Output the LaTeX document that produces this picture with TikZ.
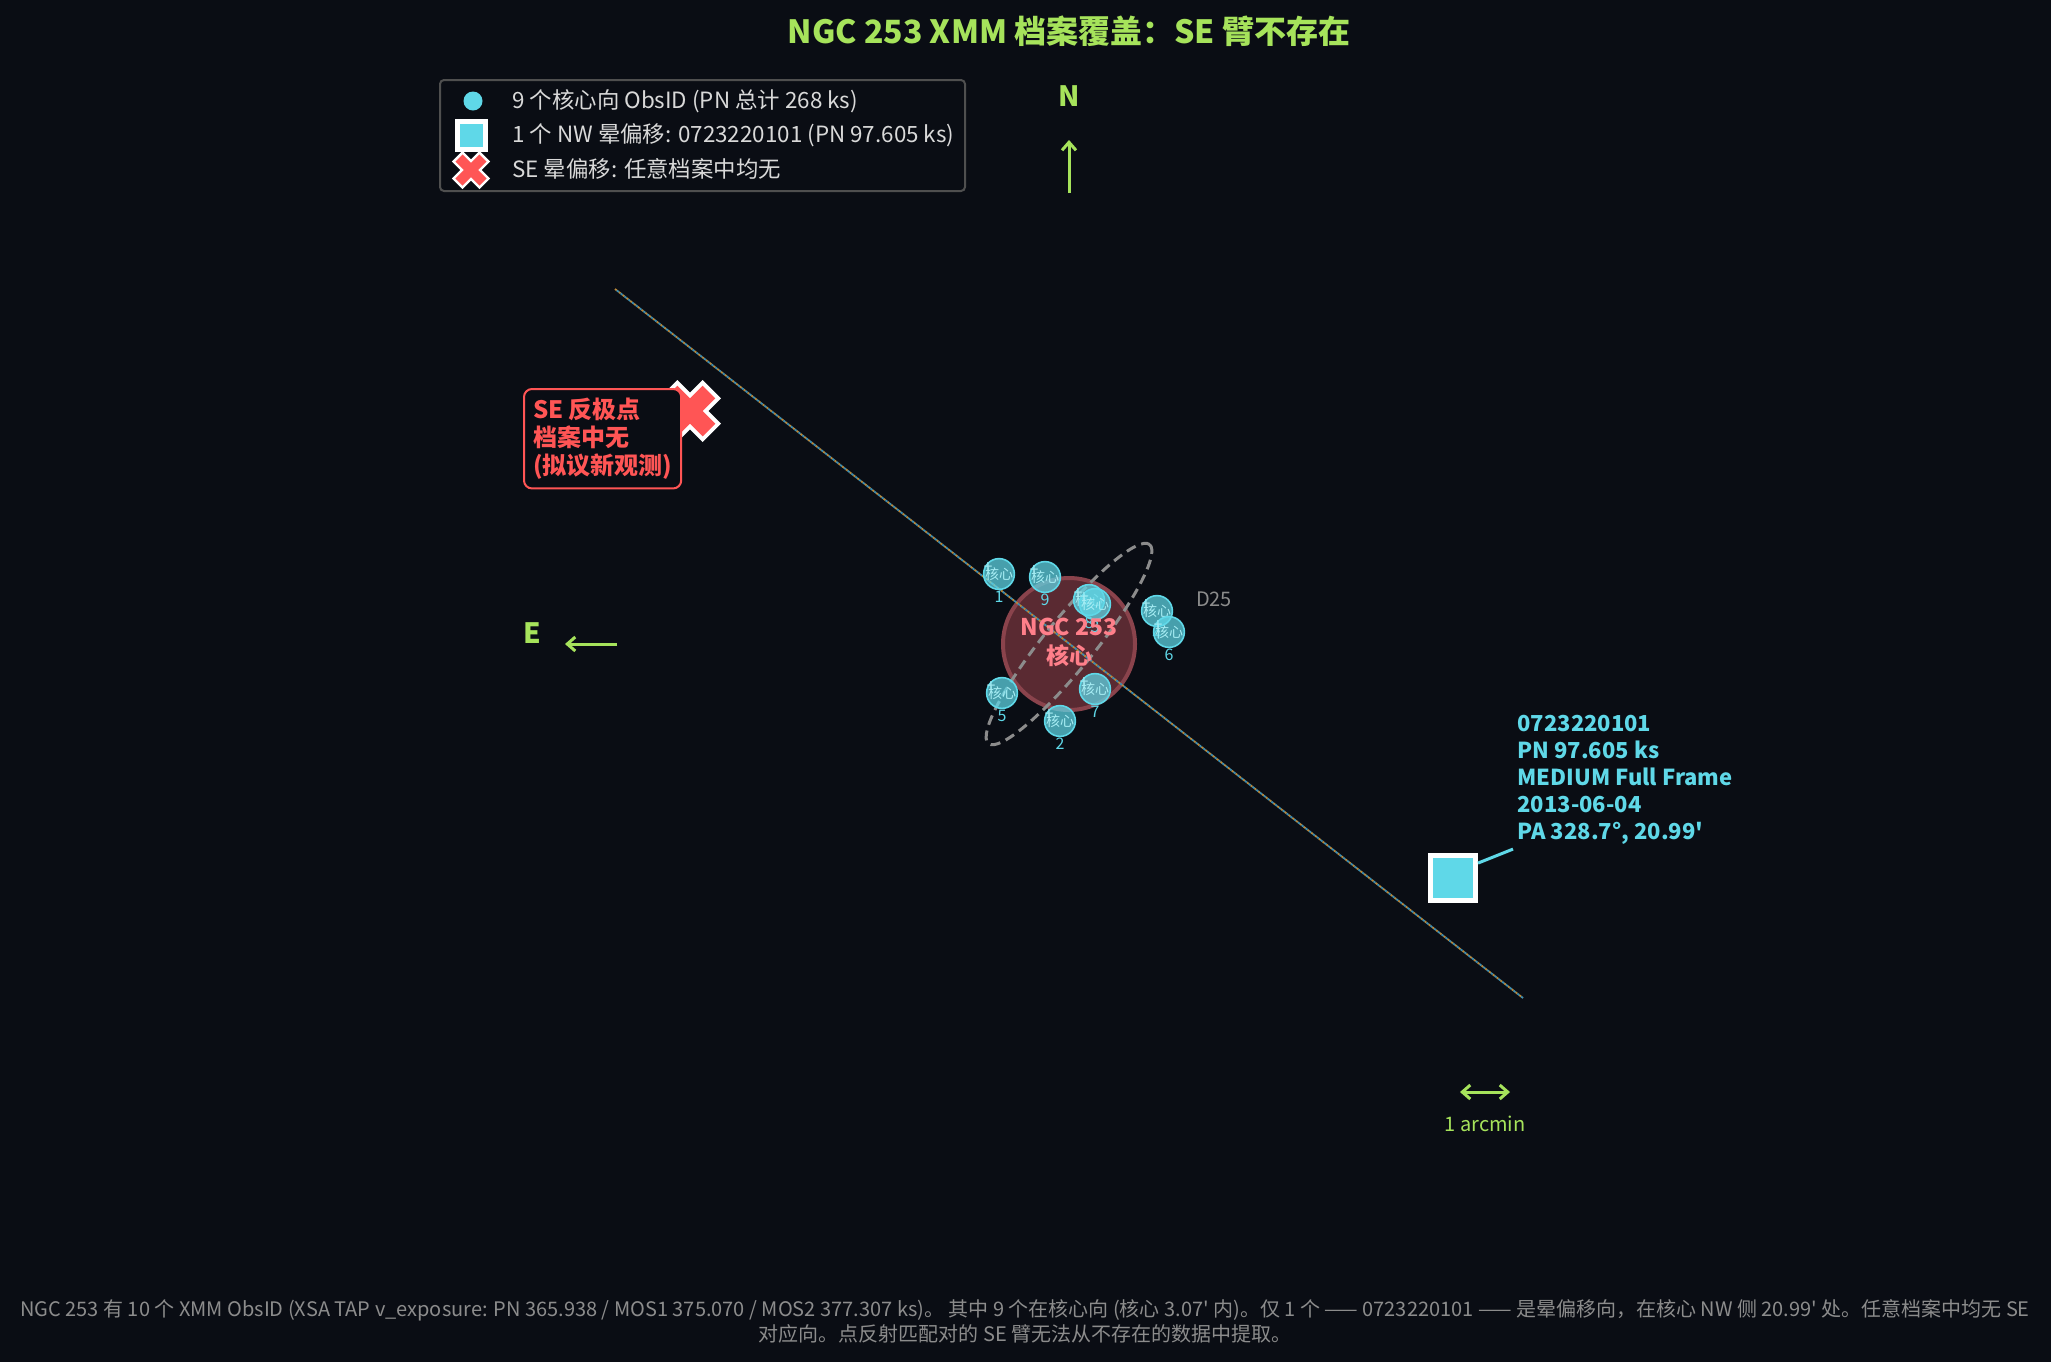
\documentclass[tikz,border=0pt]{standalone}
\usepackage{fontspec}
\setmainfont{Noto Sans CJK SC}[Ligatures=TeXOff]
\usetikzlibrary{arrows.meta}

\definecolor{bgc}{HTML}{0A0D14}
\definecolor{accg}{HTML}{A6E35B}
\definecolor{cyanc}{HTML}{5FD8E8}
\definecolor{cyanlt}{HTML}{A8EEF5}
\definecolor{xred}{HTML}{FF5555}
\definecolor{corepink}{HTML}{FF7F8A}
\definecolor{corefill}{HTML}{5A2A32}
\definecolor{coreedge}{HTML}{8A434C}
\definecolor{grayd}{HTML}{8C8C8C}
\definecolor{legtext}{HTML}{D9D9D9}
\definecolor{frameg}{HTML}{4F4F4F}
\definecolor{axorange}{HTML}{B8873A}
\definecolor{axblue}{HTML}{3D8DB0}

\tikzset{
  pics/xmk/.style n args={4}{code={
    \draw[white, line width=#3, line cap=butt] (-#1-#4,-#1-#4) -- (#1+#4,#1+#4) (-#1-#4,#1+#4) -- (#1+#4,-#1-#4);
    \draw[xred, line width=#2, line cap=butt] (-#1,-#1) -- (#1,#1) (-#1,#1) -- (#1,-#1);
  }}
}

\begin{document}
\begin{tikzpicture}[x=0.5pt, y=-0.5pt,
  barb/.style={line width=1.5pt, accg},
  compass/.style={text=accg, font=\bfseries\fontsize{14}{16}\selectfont},
  legtxt/.style={anchor=west, inner sep=0pt, text=legtext, font=\fontsize{11.2}{13}\selectfont},
  corept/.style={circle, minimum size=13pt, inner sep=0pt, draw=cyanc, line width=0.8pt, fill=cyanc, fill opacity=0.72, text opacity=1, text=cyanlt, font=\fontsize{7}{7}\selectfont, label distance=-1.5pt},
  numlab/.style={inner sep=0pt, text=cyanc, text opacity=1, fill opacity=1, font=\fontsize{8}{8}\selectfont},
  pluslab/.style={inner sep=0pt, text=cyanlt, text opacity=1, xshift=-5.5pt, yshift=3pt, font=\fontsize{8}{8}\selectfont},
  sqmk/.style={rectangle, inner sep=0pt, fill=cyanc, draw=white}]

% background and page size
\fill[bgc] (0,0) rectangle (2051,1362);

% title
\node[text=accg, font=\bfseries\fontsize{16}{19}\selectfont] (title) at (1069,31) {NGC 253 XMM 档案覆盖：SE 臂不存在};

% legend
\node[draw=frameg, fill=bgc, line width=1pt, rounded corners=2pt, minimum width=262.5pt, minimum height=55.5pt] (legbox) at (702.5,135.5) {};
\node[circle, fill=cyanc, inner sep=0pt, minimum size=9.5pt] (legdot) at (473,101) {};
\node[sqmk, line width=2.5pt, minimum size=14pt] (legsq) at (471,135) {};
\pic (legx) at (471,170) {xmk={12}{5pt}{7.5pt}{1.8}};
\node[legtxt] (leg1) at (512,101) {9 个核心向 ObsID (PN 总计 268 ks)};
\node[legtxt] (leg2) at (512,135) {1 个 NW 晕偏移: 0723220101 (PN 97.605 ks)};
\node[legtxt] (leg3) at (512,169) {SE 晕偏移: 任意档案中均无};

% compass
\node[compass] (lblN) at (1069,96) {N};
\coordinate (nTail) at (1069,193);
\coordinate (nHead) at (1069,140);
\draw[barb, -{Straight Barb[length=4pt,width=7pt]}] (nTail) -- (nHead);
\node[compass] (lblE) at (532,633) {E};
\coordinate (eTail) at (617,644);
\coordinate (eHead) at (565,644);
\draw[barb, -{Straight Barb[length=4pt,width=7pt]}] (eTail) -- (eHead);

% nucleus
\node[circle, inner sep=0pt, minimum size=66pt, fill=corefill, draw=coreedge, line width=2pt] (core) at (1069,644) {};

% D25 ellipse
\draw[grayd, line width=1.5pt, dash pattern=on 5pt off 3pt, shift={(1069,644)}, rotate=51] (0,0) ellipse [x radius=128, y radius=25];
\node[text=grayd, font=\fontsize{10}{12}\selectfont] (d25lab) at (1214,599) {D25};

% major axis through nucleus
\coordinate (axE) at (615,289);
\coordinate (axW) at (1523,998);
\draw[axorange, line width=0.9pt, dash pattern=on 1.2pt off 1.2pt] (axE) -- (axW);
\draw[axblue, line width=0.9pt, dash pattern=on 1.2pt off 1.2pt, dash phase=1.2pt] (axE) -- (axW);

% on-nucleus pointings
\node[corept, label={[numlab]below:1}, label={[pluslab]center:+}] (p1) at (999,574) {核心};
\node[corept, label={[numlab]below:9}, label={[pluslab]center:+}] (p9) at (1045,577) {核心};
\node[corept, label={[numlab]below:8}, label={[pluslab]center:+}] (p8) at (1089,600) {核心};
\node[corept, label={[numlab]below:3}, label={[pluslab]center:+}] (p3) at (1095,604) {核心};
\node[corept, label={[numlab]below:4}, label={[pluslab]center:+}] (p4) at (1157,611) {核心};
\node[corept, label={[numlab]below:6}, label={[pluslab]center:+}] (p6) at (1169,632) {核心};
\node[corept, label={[numlab]below:5}, label={[pluslab]center:+}] (p5) at (1002,693) {核心};
\node[corept, label={[numlab]below:7}, label={[pluslab]center:+}] (p7) at (1095,689) {核心};
\node[corept, label={[numlab]below:2}, label={[pluslab]center:+}] (p2) at (1060,721) {核心};

% nucleus label
\node[text=corepink, align=center, font=\bfseries\fontsize{11.5}{14.5}\selectfont] (corelab) at (1069,642) {NGC 253\\核心};

% NW halo offset
\node[sqmk, line width=2.5pt, minimum size=22.5pt] (sqNW) at (1453,877.5) {};
\node[anchor=north west, inner sep=2pt, align=left, text=cyanc, font=\bfseries\fontsize{11}{13.5}\selectfont] (nwlab) at (1513,711) {0723220101\\PN 97.605 ks\\MEDIUM Full Frame\\2013-06-04\\PA 328.7°, 20.99'};
\draw[cyanc, line width=1.5pt] (sqNW.30) -- (nwlab.south west);

% SE antipode: nothing
\pic (xSE) at (690,411) {xmk={19}{9pt}{13pt}{2.8}};
\node[anchor=north west, draw=xred, fill=bgc, line width=1pt, rounded corners=4pt, inner xsep=4.5pt, inner ysep=4.5pt, align=left, text=xred, font=\bfseries\fontsize{12}{14}\selectfont] (sebox) at (523,388) {SE 反极点\\档案中无\\(拟议新观测)};

% scale bar
\coordinate (sbL) at (1460,1092);
\coordinate (sbR) at (1510,1092);
\draw[barb, {Straight Barb[length=4pt,width=7pt]}-{Straight Barb[length=4pt,width=7pt]}] (sbL) -- (sbR);
\node[text=accg, font=\fontsize{10}{12}\selectfont] (sblab) at (1485,1124) {1 arcmin};

% footer
\node[text=grayd, align=center, font=\fontsize{10}{12.5}\selectfont] (foot) at (1025,1321) {NGC 253 有 10 个 XMM ObsID (XSA TAP v\_exposure: PN 365.938 / MOS1 375.070 / MOS2 377.307 ks)。 其中 9 个在核心向 (核心 3.07' 内)。仅 1 个 —— 0723220101 —— 是晕偏移向，在核心 NW 侧 20.99' 处。任意档案中均无 SE\\对应向。点反射匹配对的 SE 臂无法从不存在的数据中提取。};

\end{tikzpicture}
\end{document}
